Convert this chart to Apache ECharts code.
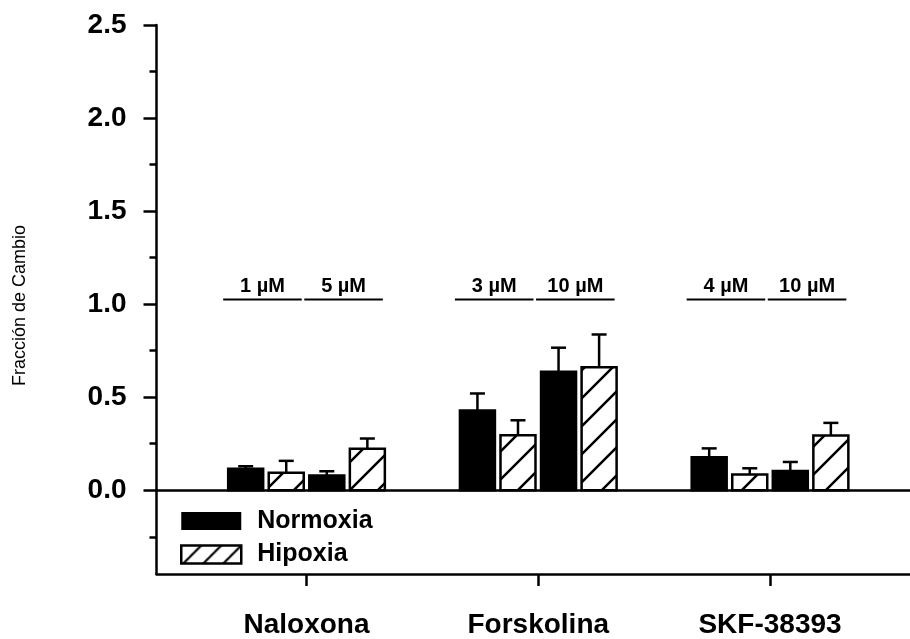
<!DOCTYPE html>
<html>
<head>
<meta charset="utf-8">
<script src="https://cdn.jsdelivr.net/npm/echarts@6/dist/echarts.min.js"></script>
<style>
html,body{margin:0;padding:0;background:#fff;}
#chart{width:910px;height:639px;}
</style>
</head>
<body>
<div id="chart"></div>
<script>
// ---- data ----
const categories = ['Naloxona', 'Forskolina', 'SKF-38393'];
const doseLabels = ['1 µM', '5 µM', '3 µM', '10 µM', '4 µM', '10 µM'];
const normoxia = [0.115, 0.079, 0.428, 0.637, 0.177, 0.104];
const normoxiaErr = [0.014, 0.023, 0.092, 0.129, 0.048, 0.048];
const hipoxia = [0.094, 0.223, 0.296, 0.661, 0.084, 0.294];
const hipoxiaErr = [0.064, 0.055, 0.080, 0.176, 0.034, 0.068];
const yMajorTicks = [0, 0.5, 1.0, 1.5, 2.0, 2.5];
const yMinorTicks = [-0.25, 0.25, 0.75, 1.25, 1.75, 2.25];

// ---- layout constants (in x-axis units) ----
const PITCH = 0.175;
const BAR_W = 0.151;
const CAP_W = 15;
const FONT = "'Liberation Sans', Arial, sans-serif";

// hatch pattern
function makeHatch(size, lw) {
  const c = document.createElement('canvas');
  c.width = size; c.height = size;
  const ctx = c.getContext('2d');
  ctx.fillStyle = '#fff';
  ctx.fillRect(0, 0, size, size);
  ctx.strokeStyle = '#000';
  ctx.lineWidth = lw;
  ctx.beginPath();
  ctx.moveTo(0, size); ctx.lineTo(size, 0);
  ctx.moveTo(-2, 2); ctx.lineTo(2, -2);
  ctx.moveTo(size - 2, size + 2); ctx.lineTo(size + 2, size - 2);
  ctx.stroke();
  return c;
}
const hatch = { image: makeHatch(28, 2.5), repeat: 'repeat' };
const hatchLegend = { image: makeHatch(20, 2.2), repeat: 'repeat' };

function buildData(vals, errs, offset) {
  return vals.map((v, i) => [Math.floor(i / 2) + 1, (i % 2) * 2 + offset, v, errs[i]]);
}
const doseData = doseLabels.map((l, i) => [Math.floor(i / 2) + 1, i % 2]);

function barItem(params, api) {
  const g = api.value(0), slot = api.value(1), v = api.value(2), e = api.value(3);
  const unit = api.size([1, 0])[0];
  const base = api.coord([g, 0]);
  const top = api.coord([g, v]);
  const et = api.coord([g, v + e]);
  const cx = base[0] + (slot - 1.5) * PITCH * unit;
  const w = BAR_W * unit;
  const isH = params.seriesIndex === 1;
  return {
    type: 'group',
    children: [
      {
        type: 'line',
        shape: { x1: cx, y1: top[1], x2: cx, y2: et[1] },
        style: { stroke: '#000', lineWidth: 2.5 }
      },
      {
        type: 'line',
        shape: { x1: cx - CAP_W / 2, y1: et[1], x2: cx + CAP_W / 2, y2: et[1] },
        style: { stroke: '#000', lineWidth: 2.5 }
      },
      {
        type: 'rect',
        shape: { x: cx - w / 2, y: top[1], width: w, height: base[1] - top[1] },
        style: { fill: isH ? hatch : '#000', stroke: '#000', lineWidth: 2.5 }
      }
    ]
  };
}

function doseItem(params, api) {
  const g = api.value(0), d = api.value(1);
  const unit = api.size([1, 0])[0];
  const p = api.coord([g, 1.025]);
  const t = api.coord([g, 1.094]);
  const w = BAR_W * unit;
  const x1 = p[0] + (2 * d - 1.5) * PITCH * unit - w / 2 - 5;
  const x2 = p[0] + (2 * d - 0.5) * PITCH * unit + w / 2 - 2;
  return {
    type: 'group',
    children: [
      {
        type: 'line',
        shape: { x1: x1, y1: p[1], x2: x2, y2: p[1] },
        style: { stroke: '#000', lineWidth: 2 }
      },
      {
        type: 'text',
        style: {
          text: doseLabels[params.dataIndex],
          x: (x1 + x2) / 2, y: t[1],
          align: 'center', verticalAlign: 'middle',
          fill: '#000', font: 'bold 20px ' + FONT
        }
      }
    ]
  };
}

const chart = echarts.init(document.getElementById('chart'), null, { renderer: 'canvas' });
const xMin = 0.3527, xMax = 3.604;
chart.setOption({
  animation: false,
  backgroundColor: '#fff',
  grid: { left: 156.5, right: 0, top: 25, bottom: 65, containLabel: false },
  legend: {
    orient: 'vertical',
    left: 180, top: 507,
    padding: 0,
    itemWidth: 60, itemHeight: 18, itemGap: 5.5,
    selectedMode: false,
    textStyle: { fontFamily: FONT, fontWeight: 'bold', fontSize: 25, color: '#000', lineHeight: 25, padding: [3, 0, 0, 11] },
    data: [
      { name: 'Normoxia', icon: 'rect', itemStyle: { color: '#000', borderColor: '#000', borderWidth: 0 } },
      { name: 'Hipoxia', icon: 'rect', itemStyle: { color: hatchLegend, borderColor: '#000', borderWidth: 2.5 } }
    ]
  },
  xAxis: [
    {
      type: 'value', min: xMin, max: xMax, position: 'bottom',
      axisLine: { show: true, onZero: false, lineStyle: { color: '#000', width: 2.5 } },
      axisTick: { show: true, inside: false, length: 12, customValues: [1, 2, 3], lineStyle: { color: '#000', width: 2.5 } },
      axisLabel: {
        show: true, customValues: [1, 2, 3], margin: 37,
        formatter: v => categories[Math.round(v) - 1] || '',
        fontFamily: FONT, fontWeight: 'bold', fontSize: 28, color: '#000'
      },
      splitLine: { show: false }
    },
    {
      type: 'value', min: xMin, max: xMax, position: 'bottom',
      axisLine: { show: true, onZero: true, onZeroAxisIndex: 0, lineStyle: { color: '#000', width: 2.5 } },
      axisTick: { show: false }, axisLabel: { show: false }, splitLine: { show: false }
    }
  ],
  yAxis: [
    {
      type: 'value', min: -0.45, max: 2.5, position: 'left',
      name: 'Fracción de Cambio', nameLocation: 'middle', nameRotate: 90, nameGap: 127,
      nameTextStyle: { fontFamily: FONT, fontSize: 18, color: '#000', padding: [0, 12, 0, 0] },
      axisLine: { show: true, onZero: false, lineStyle: { color: '#000', width: 2.5 } },
      axisTick: { show: true, inside: false, length: 13, customValues: yMajorTicks, lineStyle: { color: '#000', width: 2.5 } },
      axisLabel: {
        show: true, customValues: yMajorTicks, margin: 30,
        formatter: v => v.toFixed(1),
        fontFamily: FONT, fontWeight: 'bold', fontSize: 28, color: '#000'
      },
      splitLine: { show: false }
    },
    {
      type: 'value', min: -0.45, max: 2.5, position: 'left', offset: 0,
      axisLine: { show: false, onZero: false },
      axisTick: { show: true, inside: false, length: 7, customValues: yMinorTicks, lineStyle: { color: '#000', width: 2.5 } },
      axisLabel: { show: false }, splitLine: { show: false }
    }
  ],
  series: [
    {
      name: 'Normoxia', type: 'custom', xAxisIndex: 0, yAxisIndex: 0,
      itemStyle: { color: '#000' },
      encode: { x: 0, y: 2 },
      renderItem: barItem,
      data: buildData(normoxia, normoxiaErr, 0)
    },
    {
      name: 'Hipoxia', type: 'custom', xAxisIndex: 0, yAxisIndex: 0,
      itemStyle: { color: '#fff' },
      encode: { x: 0, y: 2 },
      renderItem: barItem,
      data: buildData(hipoxia, hipoxiaErr, 1)
    },
    {
      name: 'doses', type: 'custom', xAxisIndex: 0, yAxisIndex: 0,
      encode: { x: 0, y: 1 },
      renderItem: doseItem,
      data: doseData
    }
  ]
});
</script>
</body>
</html>
